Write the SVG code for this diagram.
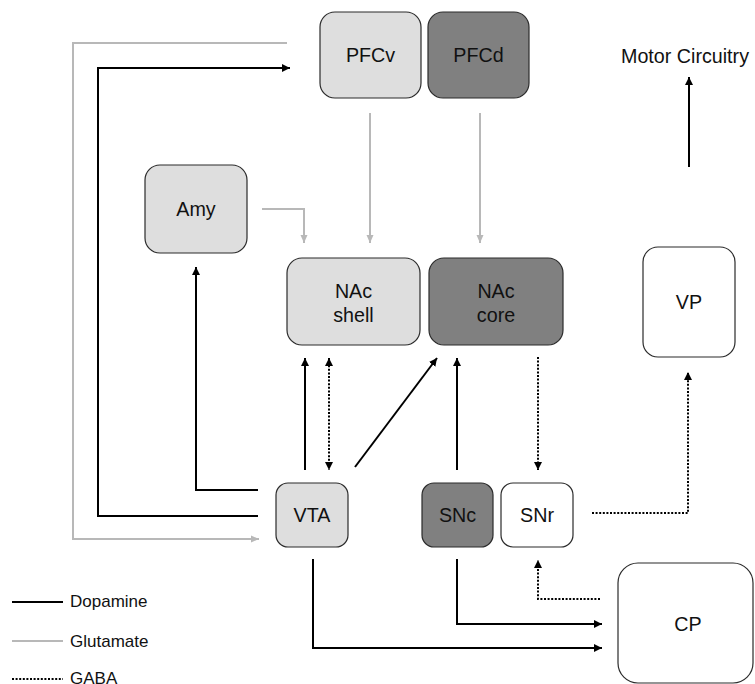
<svg xmlns="http://www.w3.org/2000/svg" width="755" height="684" viewBox="0 0 755 684">
<style>
.node rect{stroke:#2b2b2b;stroke-width:1.2}
.light{fill:#dedede}
.dark{fill:#808080}
.white{fill:#ffffff}
text{font-family:"Liberation Sans",Arial,sans-serif;fill:#111}
.lbl{font-size:19.7px;text-anchor:middle}
.leg{font-size:17px}
.da{fill:none;stroke:#000;stroke-width:2}
.glu{fill:none;stroke:#b8b8b8;stroke-width:2}
.gaba{fill:none;stroke:#000;stroke-width:2;stroke-dasharray:2 1.6}
</style>
<defs>
<marker id="ab" markerUnits="userSpaceOnUse" markerWidth="10" markerHeight="10" refX="8" refY="4" orient="auto-start-reverse"><path d="M0,0 L8,4 L0,8 z" fill="#000"/></marker>
<marker id="ag" markerUnits="userSpaceOnUse" markerWidth="10" markerHeight="10" refX="8" refY="4" orient="auto"><path d="M0,0.5 L8,4 L0,7.5 z" fill="#b8b8b8"/></marker>
</defs>
<g id="connectors">
<path class="glu" d="M287,43 H73 V539 H259" marker-end="url(#ag)"/>
<path class="glu" d="M262,209 H304 V243" marker-end="url(#ag)"/>
<path class="glu" d="M370,113 V243" marker-end="url(#ag)"/>
<path class="glu" d="M480,113 V243" marker-end="url(#ag)"/>
<path class="da" d="M258,516 H98 V68 H290" marker-end="url(#ab)"/>
<path class="da" d="M258,490 H196 V267" marker-end="url(#ab)"/>
<path class="da" d="M305,470 V358" marker-end="url(#ab)"/>
<path class="da" d="M355,467 L437,358" marker-end="url(#ab)"/>
<path class="da" d="M457,470 V358" marker-end="url(#ab)"/>
<path class="da" d="M689,167 V77" marker-end="url(#ab)"/>
<path class="da" d="M457,559 V624 H602" marker-end="url(#ab)"/>
<path class="da" d="M313,559 V648 H602" marker-end="url(#ab)"/>
<path class="gaba" d="M329,358 V470" marker-start="url(#ab)" marker-end="url(#ab)"/>
<path class="gaba" d="M538,357 V470" marker-end="url(#ab)"/>
<path class="gaba" d="M592,513 H688 V372" marker-end="url(#ab)"/>
<path class="gaba" d="M600,599 H538 V560" marker-end="url(#ab)"/>
</g>
<g id="PFCv" class="node"><rect class="light" x="320" y="12" width="101" height="86" rx="15"/><text class="lbl" x="370.5" y="62">PFCv</text></g>
<g id="PFCd" class="node"><rect class="dark" x="428" y="12" width="101" height="86" rx="15"/><text class="lbl" x="478.5" y="62">PFCd</text></g>
<g id="Motor"><text class="lbl" x="685" y="63">Motor Circuitry</text></g>
<g id="Amy" class="node"><rect class="light" x="145" y="165" width="102" height="88" rx="15"/><text class="lbl" x="196" y="216">Amy</text></g>
<g id="NAcShell" class="node"><rect class="light" x="287" y="258" width="133" height="87" rx="15"/><text class="lbl" x="353.5" y="298">NAc</text><text class="lbl" x="353.5" y="322">shell</text></g>
<g id="NAcCore" class="node"><rect class="dark" x="429" y="258" width="134" height="87" rx="15"/><text class="lbl" x="496" y="298">NAc</text><text class="lbl" x="496" y="322">core</text></g>
<g id="VP" class="node"><rect class="white" x="643" y="247" width="92" height="110" rx="15"/><text class="lbl" x="689" y="309">VP</text></g>
<g id="VTA" class="node"><rect class="light" x="276" y="483" width="72" height="64" rx="12"/><text class="lbl" x="312" y="522">VTA</text></g>
<g id="SNc" class="node"><rect class="dark" x="422" y="483" width="71" height="64" rx="12"/><text class="lbl" x="457.5" y="522">SNc</text></g>
<g id="SNr" class="node"><rect class="white" x="501" y="483" width="72" height="64" rx="12"/><text class="lbl" x="537" y="522">SNr</text></g>
<g id="CP" class="node"><rect class="white" x="618" y="563" width="135" height="120" rx="20"/><text class="lbl" x="688" y="631">CP</text></g>
<g id="legend">
<line class="da" x1="12" y1="602" x2="63" y2="602"/><text class="leg" x="70" y="607">Dopamine</text>
<line class="glu" x1="12" y1="641" x2="63" y2="641"/><text class="leg" x="70" y="647">Glutamate</text>
<line class="gaba" x1="12" y1="679" x2="63" y2="679"/><text class="leg" x="70" y="684">GABA</text>
</g>
</svg>
